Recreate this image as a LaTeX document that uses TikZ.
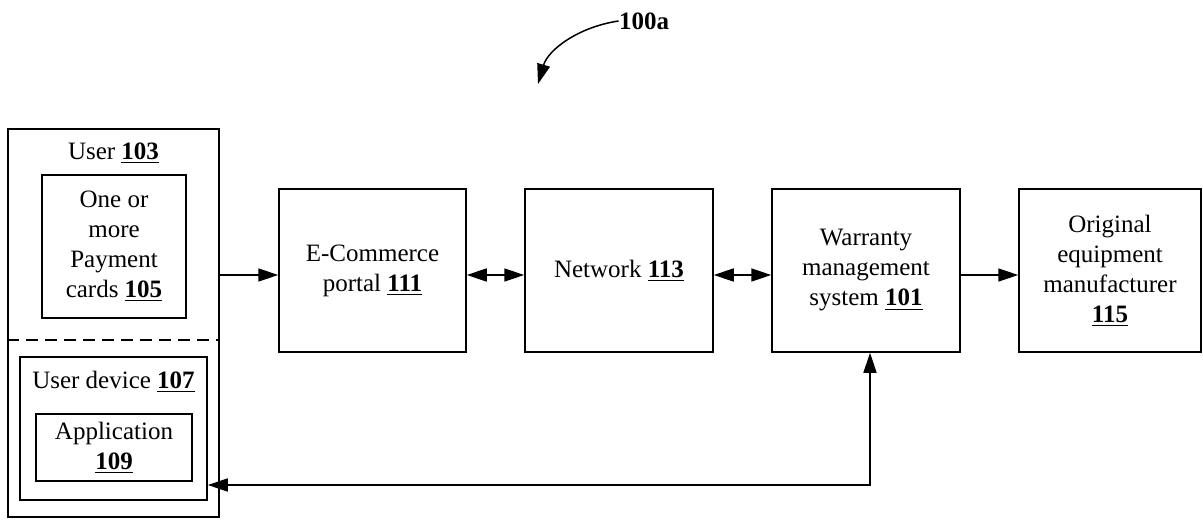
\documentclass[tikz,border=0pt]{standalone}
\usepackage{fontspec}
\setmainfont{Liberation Serif}
\usetikzlibrary{arrows.meta}
\newcommand{\refnum}[1]{\underline{\textbf{#1}}}
\tikzset{
  blk/.style={draw, line width=0.75pt, inner sep=0pt, align=center,
    font=\fontsize{12.5}{15}\selectfont},
  txt/.style={inner sep=0pt, align=center, font=\fontsize{12.5}{15}\selectfont},
  tip/.tip={Triangle[length=10pt,width=6.5pt]},
  conn/.style={line width=0.75pt, -tip},
  bconn/.style={line width=0.75pt, tip-tip}
}
\begin{document}
\begin{tikzpicture}[x=0.5pt,y=-0.5pt]
\useasboundingbox (0,0) rectangle (1203,519);

% user group with its two halves
\node[blk, minimum width=105.5pt, minimum height=194pt] (user) at (113.5,323) {};
\node[txt] (userlbl) at (113.5,153) {User \refnum{103}};
\node[blk, minimum width=72pt, minimum height=71.5pt] (cards) at (114,246.5)
  {One or\\more\\Payment\\cards \refnum{105}};
\draw[line width=0.75pt, dash pattern=on 6pt off 3.5pt] (user.west |- 0,340) -- (user.east |- 0,340);
\node[blk, minimum width=93.5pt, minimum height=71.5pt] (device) at (113.5,428.5) {};
\node[txt] (devlbl) at (113.5,382) {User device \refnum{107}};
\node[blk, minimum width=78pt, minimum height=33.5pt] (app) at (114,447.5)
  {Application\\\refnum{109}};

% main chain
\node[blk, minimum width=93.5pt, minimum height=81.5pt] (shop) at (372.5,270.5)
  {E-Commerce\\portal \refnum{111}};
\node[blk, minimum width=94pt, minimum height=81.5pt] (net) at (619,270.5)
  {Network \refnum{113}};
\node[blk, minimum width=94pt, minimum height=81.5pt] (wms) at (866,270.5)
  {Warranty\\management\\system \refnum{101}};
\node[blk, minimum width=91pt, minimum height=81.5pt] (oem) at (1110,270.5)
  {Original\\equipment\\manufacturer\\\refnum{115}};

\coordinate (row) at (0,275);
\draw[conn] (user.east |- row) -- (shop.west |- row);
\draw[bconn] (shop.east |- row) -- (net.west |- row);
\draw[bconn] (net.east |- row) -- (wms.west |- row);
\draw[conn] (wms.east |- row) -- (oem.west |- row);

% return path from the warranty system to the user device
\coordinate (corner) at (870,485);
\draw[bconn] (device.east |- corner) -- (corner) -- (wms.south -| corner);

% figure reference
\node[txt, font=\fontsize{12.5}{15}\selectfont\bfseries] (fig) at (644,21) {100a};
\coordinate (figtip) at (538,84);
\draw[conn] (fig.west) .. controls (578,27) and (548,50) .. (figtip);
\end{tikzpicture}
\end{document}
